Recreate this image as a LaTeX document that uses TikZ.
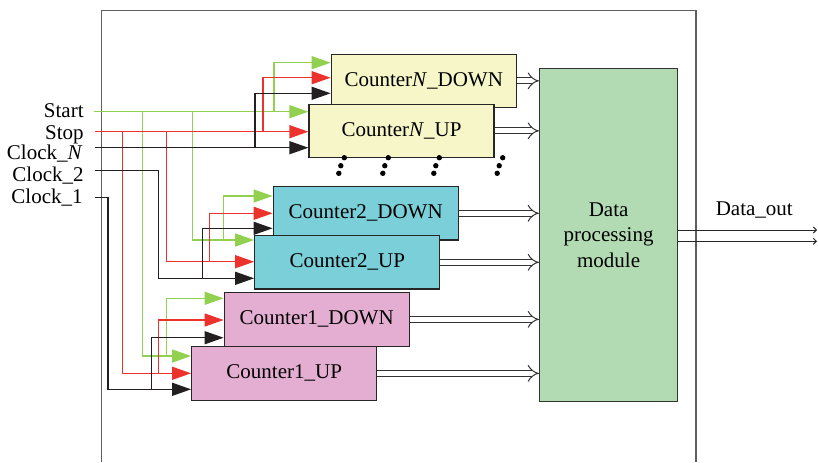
\documentclass[tikz,border=0pt]{standalone}
\usepackage{fontspec}
\setmainfont{Liberation Serif}
\usetikzlibrary{arrows.meta}

\definecolor{sigGreen}{RGB}{146,208,80}
\definecolor{sigRed}{RGB}{236,50,45}
\definecolor{sigBlack}{RGB}{35,31,32}
\definecolor{fillN}{RGB}{246,246,200}
\definecolor{fillTwo}{RGB}{122,207,216}
\definecolor{fillOne}{RGB}{228,174,210}
\definecolor{fillData}{RGB}{178,219,180}
\definecolor{frameGray}{RGB}{95,95,95}

\begin{document}
\begin{tikzpicture}[x=0.5pt,y=-0.5pt]
    \tikzset{
        framestyle/.style={frameGray, line width=0.8pt},
        wirestyle/.style={line width=0.65pt, -{Triangle[length=9.5pt,width=6.5pt]}},
        gwire/.style={wirestyle, sigGreen},
        rwire/.style={wirestyle, sigRed},
        kwire/.style={wirestyle, sigBlack},
        boxstyle/.style={draw=black!85, line width=0.6pt, minimum width=92.5pt,
            minimum height=26.75pt, inner sep=0pt, font=\fontsize{10.5}{12.6}\selectfont},
        lblstyle/.style={anchor=base east, inner sep=0pt, font=\fontsize{10.5}{12.6}\selectfont},
        busstyle/.style={draw=black!80, double=white, double distance=2.5pt,
            line width=0.5pt, -{Implies}},
        outstyle/.style={black!85, line width=0.5pt, -{Straight Barb[length=1.5pt,width=3pt]}}
    }
    \useasboundingbox (0,0) rectangle (818,462);

    % Cadre
    \draw[framestyle] (101.5,462) -- (101.5,10.3) -- (695.8,10.3) -- (695.8,462);

    % Entrees
    \node[lblstyle] (lStart) at (84,117.5) {Start};
    \node[lblstyle] (lStop) at (84,139) {Stop};
    \node[lblstyle] (lClkN) at (83,159) {Clock\_\textit{N}};
    \node[lblstyle] (lClk2) at (84,181.5) {Clock\_2};
    \node[lblstyle] (lClk1) at (83,203.5) {Clock\_1};
    \coordinate (start) at (93.5,111.7);
    \coordinate (stop) at (95,131.7);
    \coordinate (clkN) at (95,147.7);
    \coordinate (clk2) at (95,170.5);
    \coordinate (clk1) at (95,197.7);

    % Compteurs (DOWN d'abord, UP par-dessus)
    \node[boxstyle, fill=fillN] (cnD) at (423.75,80.85) {Counter\textit{N}\_DOWN};
    \node[boxstyle, fill=fillN] (cnU) at (401.5,130.85) {Counter\textit{N}\_UP};
    \node[boxstyle, fill=fillTwo] (c2D) at (365.7,213.25) {Counter2\_DOWN};
    \node[boxstyle, fill=fillTwo] (c2U) at (347.25,262.3) {Counter2\_UP};
    \node[boxstyle, fill=fillOne] (c1D) at (316.7,319.35) {Counter1\_DOWN};
    \node[boxstyle, fill=fillOne] (c1U) at (284.2,373.35) {Counter1\_UP};

    % Module de traitement
    \node[draw=black!80, line width=0.6pt, fill=fillData, minimum width=69.1pt,
        minimum height=166.7pt, inner sep=0pt, align=center,
        font=\fontsize{10.5}{12.8}\selectfont] (data) at (608.6,235) {Data\\processing\\module};

    % Points d'entree des compteurs (vert / rouge / noir)
    \foreach \n/\yg/\yr/\yk in {cnD/62.7/77.7/93.3, cnU/111.7/131.7/147.7,
        c2D/196/213.3/228.3, c2U/240/261.7/278.3, c1D/298.3/320/337.7, c1U/356/373.3/389.3} {
        \coordinate (\n-g) at (\n.west |- 0,\yg);
        \coordinate (\n-r) at (\n.west |- 0,\yr);
        \coordinate (\n-k) at (\n.west |- 0,\yk);
    }

    % Start (vert)
    \draw[gwire] (start) -- (cnU-g);
    \draw[gwire] (start -| 274,0) |- (cnD-g);
    \draw[gwire] (start -| 192.3,0) |- (c2U-g);
    \draw[gwire] (c2U-g -| 223.3,0) |- (c2D-g);
    \draw[gwire] (start -| 142.7,0) |- (c1U-g);
    \draw[gwire] (c1U-g -| 166.3,0) |- (c1D-g);

    % Stop (rouge)
    \draw[rwire] (stop) -- (cnU-r);
    \draw[rwire] (stop -| 263,0) |- (cnD-r);
    \draw[rwire] (stop -| 166.7,0) |- (c2U-r);
    \draw[rwire] (c2U-r -| 209.3,0) |- (c2D-r);
    \draw[rwire] (stop -| 122.3,0) |- (c1U-r);
    \draw[rwire] (c1U-r -| 158.3,0) |- (c1D-r);

    % Horloges (noir)
    \draw[kwire] (clkN) -- (cnU-k);
    \draw[kwire] (clkN -| 255,0) |- (cnD-k);
    \draw[kwire] (clk2) -| (c2U-k -| 158.5,0) -- (c2U-k);
    \draw[kwire] (c2U-k -| 202.5,0) |- (c2D-k);
    \draw[kwire] (clk1) -| (c1U-k -| 108,0) -- (c1U-k);
    \draw[kwire] (c1U-k -| 151.5,0) |- (c1D-k);

    % Bus vers le module
    \foreach \n in {cnD,cnU,c2D,c2U,c1D,c1U}
        \draw[busstyle] (\n.east) -- (data.west |- \n.east);

    % Points de suspension
    \foreach \x in {344.3,388.3,439.3,502.7} {
        \fill[black] (\x,157.7) circle (1.35pt);
        \fill[black] (\x-3.5,165.7) circle (1.35pt);
        \fill[black] (\x-5.5,173.3) circle (1.35pt);
    }

    % Sortie
    \coordinate (outA) at (817,230);
    \coordinate (outB) at (817,241.3);
    \draw[outstyle] (data.east |- outA) -- (outA);
    \draw[outstyle] (data.east |- outB) -- (outB);
    \node[anchor=base, inner sep=0pt, font=\fontsize{10.5}{12.6}\selectfont] (dout) at (754.3,215) {Data\_out};

\end{tikzpicture}
\end{document}
